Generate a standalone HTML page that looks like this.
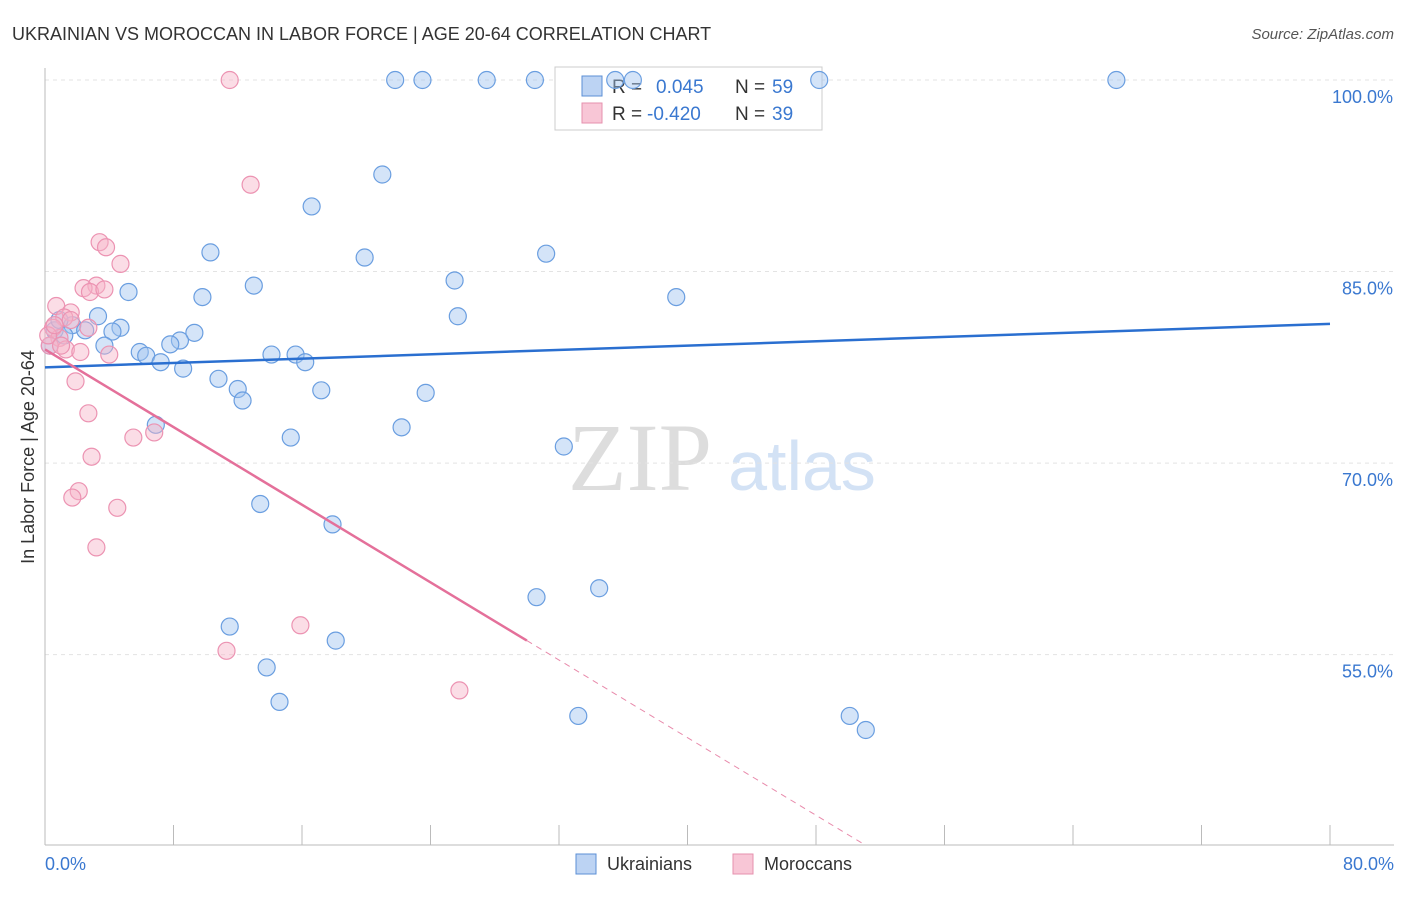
<!DOCTYPE html>
<html><head><meta charset="utf-8"><style>
body{margin:0;background:#fff;font-family:"Liberation Sans",sans-serif;}
</style></head><body>
<svg width="1406" height="892" xmlns="http://www.w3.org/2000/svg" style="font-family:'Liberation Sans',sans-serif">
<text x="12" y="40" font-size="18" fill="#333">UKRAINIAN VS MOROCCAN IN LABOR FORCE | AGE 20-64 CORRELATION CHART</text>
<text x="1394" y="39" font-size="15" fill="#555" font-style="italic" text-anchor="end">Source: ZipAtlas.com</text>
<text x="640" y="490" font-size="96" fill="#ddd" font-family="Liberation Serif" text-anchor="middle">ZIP</text>
<text x="802" y="490" font-size="70" fill="#d3e2f5" text-anchor="middle">atlas</text>
<g id="grid"></g><g id="axes"></g>
<g>
<rect x="555" y="67" width="267" height="63" fill="#fff" stroke="#ccc"/>
<rect x="582" y="76" width="20" height="20" fill="#bcd3f3" stroke="#5b8fd6"/>
<text x="612" y="93" font-size="19" fill="#333">R = </text><text x="656" y="93" font-size="19" fill="#3a78d0">0.045</text>
<text x="735" y="93" font-size="19" fill="#333">N = </text><text x="772" y="93" font-size="19" fill="#3a78d0">59</text>
<rect x="582" y="103" width="20" height="20" fill="#f8c6d6" stroke="#e690ae"/>
<text x="612" y="120" font-size="19" fill="#333">R = </text><text x="647" y="120" font-size="19" fill="#3a78d0">-0.420</text>
<text x="735" y="120" font-size="19" fill="#333">N = </text><text x="772" y="120" font-size="19" fill="#3a78d0">39</text>
</g>
<g id="pts"></g><g id="lines"></g>
<text transform="translate(34,457) rotate(-90)" font-size="18" fill="#333" text-anchor="middle">In Labor Force | Age 20-64</text>
<text x="45" y="870" font-size="18" fill="#3a78d0">0.0%</text>
<text x="1394" y="870" font-size="18" fill="#3a78d0" text-anchor="end">80.0%</text>
<g>
<rect x="576" y="854" width="20" height="20" fill="#bcd3f3" stroke="#5b8fd6"/>
<text x="607" y="870" font-size="18" fill="#333">Ukrainians</text>
<rect x="733" y="854" width="20" height="20" fill="#f8c6d6" stroke="#e690ae"/>
<text x="764" y="870" font-size="18" fill="#333">Moroccans</text>
</g>
</svg>
<script>
const yTicks=[100,85,70,55];
const yTickLabels=["100.0%","85.0%","70.0%","55.0%"];
const blueX=[21.8,23.5,27.5,30.5,35.5,36.6,48.2,66.7,21.0,16.6,10.3,19.9,31.2,25.5,13.0,5.2,9.8,39.3,25.7,3.3,1.7,4.7,4.2,9.3,8.4,7.8,3.7,5.9,6.3,14.1,15.6,7.2,16.2,8.6,10.8,12.0,17.2,23.7,12.3,6.9,22.2,15.3,32.3,13.4,17.9,30.6,34.5,11.5,18.1,13.8,14.6,33.2,50.1,51.1,0.6,0.3,0.9,2.5,1.2];
const blueY=[100,100,100,100,100,100,100,100,92.6,90.1,86.5,86.1,86.4,84.3,83.9,83.4,83.0,83.0,81.5,81.5,80.8,80.6,80.3,80.2,79.6,79.3,79.2,78.7,78.4,78.5,78.5,77.9,77.9,77.4,76.6,75.8,75.7,75.5,74.9,73.0,72.8,72.0,71.3,66.8,65.2,59.5,60.2,57.2,56.1,54.0,51.3,50.2,50.2,49.1,80.4,79.2,81.2,80.4,80.0];
const pinkX=[11.5,12.8,3.4,3.8,4.7,3.2,2.4,2.8,3.7,0.7,1.6,1.2,0.5,2.7,0.9,0.3,1.3,2.2,4.0,1.9,2.7,5.5,6.8,2.9,2.1,1.7,4.5,3.2,15.9,11.3,25.8,0.2,0.6,1.0,1.6];
const pinkY=[100,91.8,87.3,86.9,85.6,83.9,83.7,83.4,83.6,82.3,81.8,81.4,80.6,80.6,79.8,79.2,78.9,78.7,78.5,76.4,73.9,72.0,72.4,70.5,67.8,67.3,66.5,63.4,57.3,55.3,52.2,80.0,80.8,79.2,81.2];
const blueTrend=[77.5,80.9];
const pinkTrend=[78.9,-0.76];
const pinkSolidEnd=30, pinkDashEnd=51;
const NS="http://www.w3.org/2000/svg";
const X=v=>45+v/80*1285, Y=v=>80+(100-v)*12.77;
function mk(tag,a,p){const e=document.createElementNS(NS,tag);for(const k in a)e.setAttribute(k,a[k]);document.getElementById(p).appendChild(e);return e;}
yTicks.forEach((t,i)=>{
 const l=mk('line',{x1:45,x2:1394,y1:Y(t),y2:Y(t),stroke:'#e3e3e3','stroke-dasharray':'4,4'},'grid');
 
 
 const tx=mk('text',{x:1393,y:Y(t)+23,'font-size':18,fill:'#3a78d0','text-anchor':'end'},'grid');tx.textContent=yTickLabels[i];
 
 
});
const ya=mk('line',{x1:45,x2:45,y1:68,y2:845,stroke:'#bbb'},'axes');


const xa=mk('line',{x1:45,x2:1394,y1:845,y2:845,stroke:'#bbb'},'axes');


for(let i=0;i<=10;i++){const t=mk('line',{x1:X(i*8),x2:X(i*8),y1:825,y2:845,stroke:'#bbb'},'axes');
 
 }
blueX.forEach((v,i)=>{const c=mk('circle',{cx:X(v),cy:Y(blueY[i]),r:8.5,fill:'rgba(160,195,240,0.45)',stroke:'#6a9ee0','stroke-width':1.2},'pts');
 
 });
pinkX.forEach((v,i)=>{const c=mk('circle',{cx:X(v),cy:Y(pinkY[i]),r:8.5,fill:'rgba(246,180,200,0.45)',stroke:'#ec93b2','stroke-width':1.2},'pts');
 
 });
const bl=mk('line',{x1:X(0),y1:Y(blueTrend[0]),x2:X(80),y2:Y(blueTrend[1]),stroke:'#2a6fd0','stroke-width':2.5},'lines');


const pf=x=>pinkTrend[0]+pinkTrend[1]*x;
const pl=mk('line',{x1:X(0),y1:Y(pf(0)),x2:X(pinkSolidEnd),y2:Y(pf(pinkSolidEnd)),stroke:'#e4709a','stroke-width':2.5},'lines');


const pd=mk('line',{x1:X(pinkSolidEnd),y1:Y(pf(pinkSolidEnd)),x2:X(pinkDashEnd),y2:Math.min(845,Y(pf(pinkDashEnd))),stroke:'#e88aab','stroke-width':1,'stroke-dasharray':'6,5'},'lines');


</script>
</body></html>
